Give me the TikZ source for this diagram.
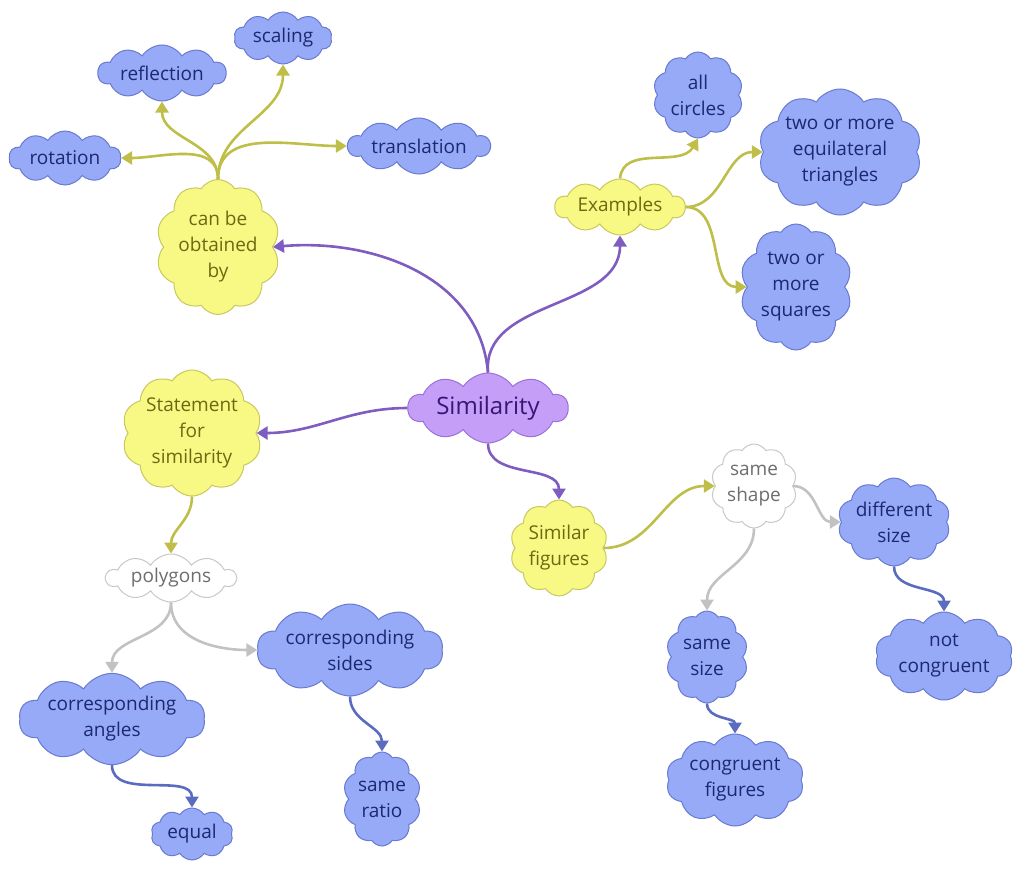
\documentclass[tikz,border=0pt]{standalone}
\usepackage{fontspec}
\setmainfont{Open Sans}
\usetikzlibrary{shapes.symbols,arrows.meta}

\definecolor{bluefill}{HTML}{96AAF8}
\definecolor{blueline}{HTML}{6A7AD0}
\definecolor{bluetext}{HTML}{1C2870}
\definecolor{yelfill}{HTML}{F8F884}
\definecolor{yelline}{HTML}{C8C860}
\definecolor{yeltext}{HTML}{6A6A12}
\definecolor{purpfill}{HTML}{C59EF8}
\definecolor{purpline}{HTML}{9A72D8}
\definecolor{purptext}{HTML}{3A1478}
\definecolor{whiteline}{HTML}{C8C8C8}
\definecolor{whitetext}{HTML}{6E6E6E}
\definecolor{purplink}{HTML}{7E5CC0}
\definecolor{olivelink}{HTML}{BEBE48}
\definecolor{greylink}{HTML}{C2C2C2}
\definecolor{bluelink}{HTML}{5A6CC0}

\begin{document}
\begin{tikzpicture}[x=1pt,y=1pt,
    idea/.style={cloud, cloud puffs=10, cloud puff arc=115, cloud ignores aspect,
      inner sep=0pt, align=center, line width=1pt,
      font=\fontsize{19}{26}\selectfont},
    blueidea/.style={idea, fill=bluefill, draw=blueline, text=bluetext},
    yelidea/.style={idea, fill=yelfill, draw=yelline, text=yeltext},
    whiteidea/.style={idea, fill=white, draw=whiteline, text=whitetext},
    purpidea/.style={idea, fill=purpfill, draw=purpline, text=purptext,
      font=\fontsize{24}{28}\selectfont},
    link/.style={line width=2.6pt, -{Triangle[width=13pt,length=11pt]}},
    purplk/.style={link, draw=purplink},
    olivelk/.style={link, draw=olivelink},
    greylk/.style={link, draw=greylink},
    bluelk/.style={link, draw=bluelink}]
  \useasboundingbox (0,0) rectangle (1022,-870);

  % centre
  \node[purpidea, minimum width=160pt, minimum height=70pt] (sim) at (488,-408) {Similarity};

  % upper left
  \node[yelidea, minimum width=124pt, minimum height=135pt] (obt) at (218,-247) {can be\\obtained\\by};
  \node[blueidea, minimum width=112pt, minimum height=54pt] (rot) at (65,-158) {rotation};
  \node[blueidea, minimum width=128pt, minimum height=56pt] (refl) at (162,-73) {reflection};
  \node[blueidea, minimum width=98pt, minimum height=52pt] (scal) at (283,-38) {scaling};
  \node[blueidea, minimum width=142pt, minimum height=56pt] (trans) at (419,-146) {translation};

  % upper right
  \node[yelidea, minimum width=130pt, minimum height=56pt] (ex) at (620,-207) {Examples};
  \node[blueidea, minimum width=90pt, minimum height=86pt] (circ) at (698,-95) {all\\circles};
  \node[blueidea, minimum width=162pt, minimum height=126pt] (tri) at (840,-152) {two or more\\equilateral\\triangles};
  \node[blueidea, minimum width=112pt, minimum height=126pt] (sq) at (796,-287) {two or\\more\\squares};

  % lower left
  \node[yelidea, minimum width=136pt, minimum height=126pt] (stmt) at (192,-433) {Statement\\for\\similarity};
  \node[whiteidea, minimum width=130pt, minimum height=48pt] (poly) at (171,-578) {polygons};
  \node[blueidea, minimum width=186pt, minimum height=88pt] (cang) at (112,-719) {corresponding\\angles};
  \node[blueidea, minimum width=82pt, minimum height=52pt] (eq) at (192,-834) {equal};
  \node[blueidea, minimum width=186pt, minimum height=92pt] (cside) at (350,-650) {corresponding\\sides};
  \node[blueidea, minimum width=78pt, minimum height=94pt] (ratio) at (382,-799) {same\\ratio};

  % lower right
  \node[yelidea, minimum width=98pt, minimum height=96pt] (simf) at (559,-548) {Similar\\figures};
  \node[whiteidea, minimum width=86pt, minimum height=84pt] (shape) at (754,-486) {same\\shape};
  \node[blueidea, minimum width=112pt, minimum height=88pt] (diff) at (894,-522) {different\\size};
  \node[blueidea, minimum width=138pt, minimum height=88pt] (ncong) at (944,-656) {not\\congruent};
  \node[blueidea, minimum width=82pt, minimum height=92pt] (ssize) at (707,-657) {same\\size};
  \node[blueidea, minimum width=138pt, minimum height=92pt] (cfig) at (735,-780) {congruent\\figures};

  % connectors
  \draw[purplk] (sim.north) to[out=95,in=-90] (ex.south);
  \draw[purplk] (sim.north) to[out=95,in=5] (obt.east);
  \draw[purplk] (sim.west) to[out=180,in=0] (stmt.east);
  \draw[purplk] (sim.south) to[out=-90,in=90] (simf.north);

  \draw[olivelk] (obt.north) to[out=90,in=0] (rot.east);
  \draw[olivelk] (obt.north) to[out=90,in=-90] (refl.south);
  \draw[olivelk] (obt.north) to[out=90,in=-90] (scal.south);
  \draw[olivelk] (obt.north) to[out=90,in=180] (trans.west);
  \draw[olivelk] (ex.north) to[out=85,in=-120] (circ.south);
  \draw[olivelk] (ex.east) to[out=0,in=180] (tri.west);
  \draw[olivelk] (ex.east) to[out=0,in=180] (sq.west);
  \draw[olivelk] (stmt.south) to[out=-90,in=90] (poly.north);
  \draw[olivelk] (simf.east) to[out=0,in=180] (shape.west);

  \draw[greylk] (poly.south) to[out=-90,in=90] (cang.north);
  \draw[greylk] (poly.south) to[out=-90,in=180] (cside.west);
  \draw[greylk] (shape.east) to[out=0,in=180] (diff.west);
  \draw[greylk] (shape.south) to[out=-90,in=90] (ssize.north);

  \draw[bluelk] (cang.south) to[out=-90,in=90] (eq.north);
  \draw[bluelk] (cside.south) to[out=-90,in=90] (ratio.north);
  \draw[bluelk] (diff.south) to[out=-90,in=90] (ncong.north);
  \draw[bluelk] (ssize.south) to[out=-90,in=90] (cfig.north);
\end{tikzpicture}
\end{document}
